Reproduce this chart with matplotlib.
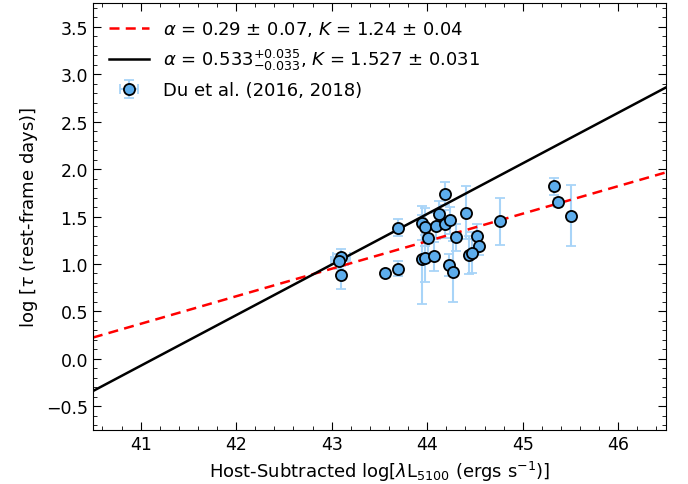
import matplotlib

matplotlib.use("Agg")
import matplotlib.pyplot as plt
import numpy as np

# Du et al. (2016, 2018) host-subtracted sample
log_l = [43.10, 43.08, 43.10, 43.56, 43.69, 43.69, 43.95, 43.98, 44.01, 43.95,
         43.98, 44.07, 44.09, 44.12, 44.19, 44.19, 44.24, 44.23, 44.27, 44.30,
         44.41, 44.52, 44.54, 44.44, 44.47, 44.76, 45.33, 45.37, 45.51]
log_tau = [1.07, 1.03, 0.88, 0.90, 0.95, 1.38, 1.43, 1.39, 1.27, 1.05,
           1.06, 1.08, 1.40, 1.53, 1.74, 1.42, 1.46, 0.99, 0.92, 1.28,
           1.54, 1.30, 1.19, 1.09, 1.12, 1.45, 1.82, 1.65, 1.51]
tau_err = [0.09, 0.08, 0.14, 0.03, 0.08, 0.09, 0.18, 0.20, 0.15, 0.47,
           0.25, 0.15, 0.14, 0.13, 0.12, 0.15, 0.14, 0.12, 0.32, 0.14,
           0.28, 0.12, 0.10, 0.20, 0.22, 0.25, 0.09, 0.05, 0.32]
l_err = [0.09, 0.09, 0.0, 0.0, 0.0, 0.0, 0.0, 0.0, 0.0, 0.0,
         0.0, 0.0, 0.0, 0.0, 0.0, 0.0, 0.0, 0.0, 0.0, 0.0,
         0.0, 0.0, 0.0, 0.0, 0.0, 0.0, 0.0, 0.0, 0.0]

# fits: log tau = K + alpha * (log L - 44)
fit_old = (0.29, 1.24)
fit_new = (0.533, 1.527)

XMIN, XMAX = 40.5, 46.5

fig = plt.figure(figsize=(6.88, 4.85), dpi=100)
ax = fig.add_axes([0.135, 0.111, 0.833, 0.881])

xx = np.array([XMIN, XMAX])
l1, = ax.plot(xx, fit_old[1] + fit_old[0] * (xx - 44), "--", color="red",
              lw=1.8, dashes=(4, 2.5), zorder=2,
              label=r"$\alpha$ = 0.29 ± 0.07, $K$ = 1.24 ± 0.04")
l2, = ax.plot(xx, fit_new[1] + fit_new[0] * (xx - 44), "-", color="black",
              lw=1.8, zorder=2,
              label=r"$\alpha$ = 0.533$^{+0.035}_{-0.033}$, $K$ = 1.527 ± 0.031")

eb = ax.errorbar(log_l, log_tau, yerr=tau_err, xerr=l_err, fmt="o",
                 ms=8, mfc="#5DADEC", mec="black", mew=1.3,
                 ecolor="#A8D4F8", elinewidth=1.5, capsize=3.5, capthick=1.3,
                 label="Du et al. (2016, 2018)")
eb.lines[0].set_zorder(4)
for c in eb.lines[1]:
    c.set_zorder(1)
for c in eb.lines[2]:
    c.set_zorder(1)

ax.set_xlim(XMIN, XMAX)
ax.set_ylim(-0.75, 3.75)
ax.set_xticks([41, 42, 43, 44, 45, 46])
ax.set_yticks([-0.5, 0.0, 0.5, 1.0, 1.5, 2.0, 2.5, 3.0, 3.5])
ax.minorticks_on()
ax.tick_params(which="both", direction="in", top=True, right=True)
ax.tick_params(which="major", length=6, labelsize=12.5)
ax.tick_params(which="minor", length=3)

ax.set_xlabel(r"Host-Subtracted log[$\lambda$L$_{5100}$ (ergs s$^{-1}$)]", fontsize=13)
ax.set_ylabel(r"log [$\tau$ (rest-frame days)]", fontsize=13)

ax.legend(handles=[l1, l2, eb], loc="upper left", frameon=False, fontsize=13,
          handlelength=2.2)

fig.savefig("out.png", dpi=100)
